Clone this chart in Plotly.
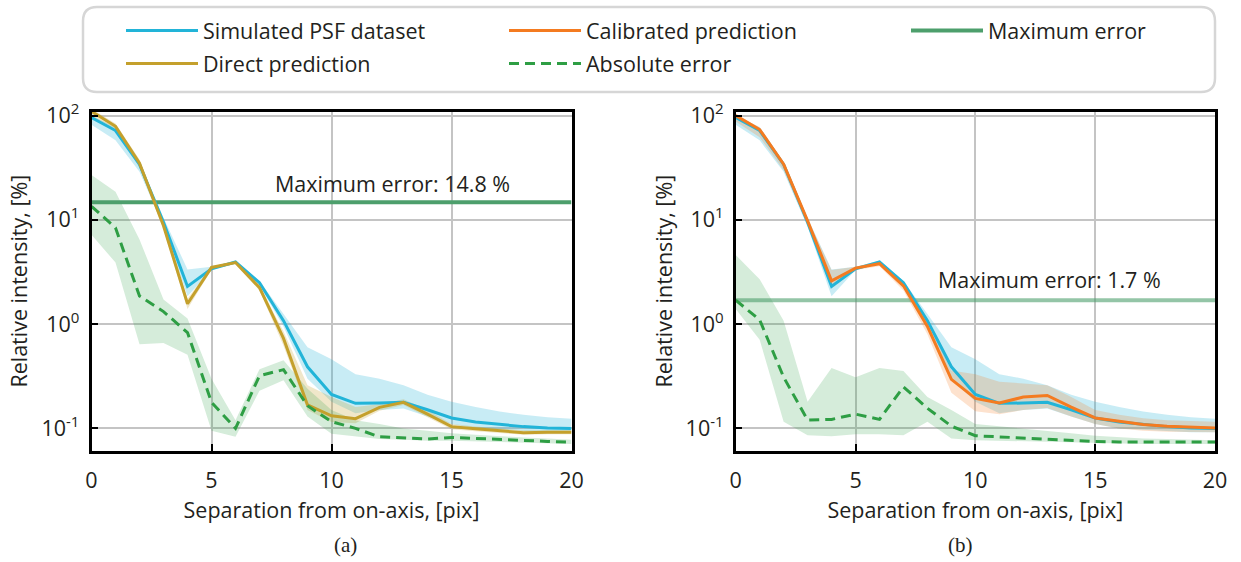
import math
import plotly.graph_objects as go

# ---------------- data ----------------
sep = list(range(21))

# Simulated PSF dataset (mean, upper, lower)
sim = [96, 72, 34, 9.5, 2.3, 3.4, 3.95, 2.5, 1.08, 0.39, 0.212, 0.174, 0.175, 0.178, 0.151, 0.126, 0.115, 0.109, 0.104, 0.101, 0.1]
sim_hi = [100, 78, 36, 10.5, 3.35, 3.55, 4.05, 2.6, 1.25, 0.6, 0.46, 0.33, 0.3, 0.26, 0.21, 0.18, 0.16, 0.145, 0.135, 0.128, 0.124]
sim_lo = [82, 58, 29, 8.6, 1.85, 3.3, 3.85, 2.35, 0.95, 0.3, 0.18, 0.14, 0.15, 0.155, 0.13, 0.11, 0.1, 0.097, 0.094, 0.092, 0.092]

# (a) Direct prediction
direct = [110, 79, 35, 8.8, 1.57, 3.5, 3.9, 2.24, 0.73, 0.168, 0.132, 0.124, 0.159, 0.178, 0.137, 0.104, 0.099, 0.095, 0.091, 0.092, 0.092]
direct_hi = [116, 84, 38, 9.5, 1.75, 3.6, 4.0, 2.35, 0.85, 0.26, 0.2, 0.16, 0.17, 0.19, 0.15, 0.11, 0.104, 0.1, 0.096, 0.096, 0.096]
direct_lo = [100, 74, 32, 8.2, 1.4, 3.35, 3.8, 2.1, 0.62, 0.15, 0.115, 0.112, 0.148, 0.168, 0.128, 0.098, 0.094, 0.09, 0.087, 0.088, 0.088]

# (a) Absolute error
err_a = [13.5, 8.4, 1.86, 1.32, 0.83, 0.178, 0.1, 0.32, 0.366, 0.165, 0.116, 0.1, 0.083, 0.081, 0.079, 0.082, 0.08, 0.078, 0.077, 0.075, 0.074]
err_a_hi = [27, 18.6, 6.5, 1.72, 1.13, 0.3, 0.12, 0.37, 0.45, 0.24, 0.15, 0.12, 0.11, 0.1, 0.095, 0.09, 0.087, 0.084, 0.082, 0.08, 0.078]
err_a_lo = [7.2, 3.9, 0.64, 0.66, 0.51, 0.095, 0.083, 0.23, 0.29, 0.13, 0.089, 0.084, 0.079, 0.078, 0.076, 0.076, 0.075, 0.074, 0.073, 0.072, 0.071]

# (b) Calibrated prediction
calib = [100, 73.6, 34.2, 9.8, 2.6, 3.45, 3.8, 2.33, 0.95, 0.295, 0.194, 0.175, 0.2, 0.207, 0.16, 0.126, 0.117, 0.109, 0.105, 0.103, 0.101]
calib_hi = [104, 77, 36, 10.3, 3.3, 3.55, 3.95, 2.45, 1.05, 0.36, 0.33, 0.28, 0.27, 0.26, 0.2, 0.15, 0.135, 0.125, 0.12, 0.118, 0.116]
calib_lo = [88, 62, 30, 9.0, 2.2, 3.3, 3.6, 2.1, 0.8, 0.22, 0.146, 0.137, 0.15, 0.157, 0.13, 0.11, 0.1, 0.095, 0.093, 0.092, 0.092]

# (b) Absolute error
err_b = [1.7, 1.1, 0.31, 0.12, 0.122, 0.137, 0.122, 0.25, 0.156, 0.105, 0.085, 0.083, 0.081, 0.078, 0.076, 0.075, 0.074, 0.074, 0.074, 0.074, 0.074]
err_b_hi = [4.6, 2.7, 1.08, 0.18, 0.38, 0.31, 0.38, 0.355, 0.2, 0.15, 0.11, 0.105, 0.1, 0.095, 0.09, 0.085, 0.082, 0.08, 0.079, 0.078, 0.077]
err_b_lo = [1.4, 0.71, 0.116, 0.086, 0.084, 0.088, 0.088, 0.086, 0.116, 0.08, 0.077, 0.076, 0.075, 0.074, 0.073, 0.072, 0.072, 0.071, 0.071, 0.071, 0.071]

max_err = [14.8, 1.7]
panel_labels = ["(a)", "(b)"]
y_tickvals = [0.1, 1, 10, 100]
y_ticktext = ["10<sup>-1</sup>", "10<sup>0</sup>", "10<sup>1</sup>", "10<sup>2</sup>"]
x_tickvals = [0, 5, 10, 15, 20]

# ---------------- styles ----------------
W, H = 1241, 562
FONT = "Open Sans"
TXT = "#231f20"
C_SIM = "#22b4d8"
C_DIR = "#c4a02c"
C_CAL = "#f47b20"
C_ERR = "#2e9e44"
C_MAX = "#4d9f6c"
FS = 21.5

fig = go.Figure()


def band(hi, lo, color, xa, ya):
    fig.add_trace(go.Scatter(x=sep, y=hi, mode="lines", line=dict(width=0), showlegend=False,
                             hoverinfo="skip", xaxis=xa, yaxis=ya))
    fig.add_trace(go.Scatter(x=sep, y=lo, mode="lines", line=dict(width=0), fill="tonexty",
                             fillcolor=color, showlegend=False, hoverinfo="skip", xaxis=xa, yaxis=ya))


# ---- panel (a)
band(sim_hi, sim_lo, "rgba(34,180,216,0.25)", "x", "y")
band(direct_hi, direct_lo, "rgba(196,160,44,0.25)", "x", "y")
band(err_a_hi, err_a_lo, "rgba(46,158,68,0.2)", "x", "y")
fig.add_trace(go.Scatter(x=[sep[0], sep[-1]], y=[max_err[0]] * 2, mode="lines",
                         line=dict(color=C_MAX, width=4), name="Maximum error",
                         legend="legend3", legendgroup="g5", xaxis="x", yaxis="y"))
fig.add_trace(go.Scatter(x=sep, y=sim, mode="lines", line=dict(color=C_SIM, width=3),
                         name="Simulated PSF dataset", legend="legend", legendrank=1, legendgroup="g1",
                         xaxis="x", yaxis="y"))
fig.add_trace(go.Scatter(x=sep, y=direct, mode="lines", line=dict(color=C_DIR, width=3),
                         name="Direct prediction", legend="legend", legendrank=2, legendgroup="g2",
                         xaxis="x", yaxis="y"))
fig.add_trace(go.Scatter(x=sep, y=err_a, mode="lines", line=dict(color=C_ERR, width=3, dash="10px,6px"),
                         name="Absolute error", legend="legend2", legendrank=2, legendgroup="g4",
                         xaxis="x", yaxis="y"))

# ---- panel (b)
band(sim_hi, sim_lo, "rgba(34,180,216,0.25)", "x2", "y2")
band(calib_hi, calib_lo, "rgba(244,123,32,0.22)", "x2", "y2")
band(err_b_hi, err_b_lo, "rgba(46,158,68,0.2)", "x2", "y2")
fig.add_trace(go.Scatter(x=[sep[0], sep[-1]], y=[max_err[1]] * 2, mode="lines",
                         line=dict(color="rgba(77,159,108,0.6)", width=4), showlegend=False,
                         xaxis="x2", yaxis="y2"))
fig.add_trace(go.Scatter(x=sep, y=sim, mode="lines", line=dict(color=C_SIM, width=3),
                         showlegend=False, xaxis="x2", yaxis="y2"))
fig.add_trace(go.Scatter(x=sep, y=calib, mode="lines", line=dict(color=C_CAL, width=3),
                         name="Calibrated prediction", legend="legend2", legendrank=1, legendgroup="g3",
                         xaxis="x2", yaxis="y2"))
fig.add_trace(go.Scatter(x=sep, y=err_b, mode="lines", line=dict(color=C_ERR, width=3, dash="10px,6px"),
                         showlegend=False, xaxis="x2", yaxis="y2"))

# ---------------- axes ----------------
def xaxis_cfg(domain, anchor):
    return dict(domain=domain, anchor=anchor, range=[0, 20], tickmode="array", tickvals=x_tickvals,
                ticks="inside", ticklen=7, tickwidth=2, tickcolor="black",
                showline=True, linecolor="black", linewidth=2.5, mirror=True,
                showgrid=True, gridcolor="#c4c4c4", gridwidth=1.5, zeroline=False,
                tickfont=dict(family=FONT, size=FS, color=TXT), ticklabelstandoff=9,
                title=dict(text="Separation from on-axis, [pix]", font=dict(family=FONT, size=FS, color=TXT),
                           standoff=10))


def yaxis_cfg(anchor):
    return dict(domain=[111.3 / H, 450.3 / H], anchor=anchor, type="log", range=[-1.214, 2.038],
                tickmode="array", tickvals=y_tickvals, ticktext=y_ticktext,
                ticks="inside", ticklen=7, tickwidth=2, tickcolor="black",
                showline=True, linecolor="black", linewidth=2.5, mirror=True,
                showgrid=True, gridcolor="#c4c4c4", gridwidth=1.5, zeroline=False,
                tickfont=dict(family=FONT, size=FS, color=TXT), ticklabelstandoff=5,
                title=dict(text="Relative intensity, [%]", font=dict(family=FONT, size=FS, color=TXT),
                           standoff=8))


leg_common = dict(orientation="v", xanchor="left", yanchor="top", bgcolor="rgba(0,0,0,0)",
                  borderwidth=0, font=dict(family=FONT, size=FS, color=TXT), itemwidth=72,
                  tracegroupgap=2)

fig.update_layout(
    width=W, height=H, margin=dict(l=0, r=0, t=0, b=0, autoexpand=False),
    paper_bgcolor="white", plot_bgcolor="white",
    xaxis=xaxis_cfg([91.5 / W, 571.5 / W], "y"),
    yaxis=yaxis_cfg("x"),
    xaxis2=xaxis_cfg([735.7 / W, 1215 / W], "y2"),
    yaxis2=yaxis_cfg("x2"),
    legend=dict(x=121 / W, y=1 - 10 / H, **leg_common),
    legend2=dict(x=504 / W, y=1 - 10 / H, **leg_common),
    legend3=dict(x=906 / W, y=1 - 10 / H, **leg_common),
    showlegend=True,
)

# rounded legend frame
x0, x1 = 83 / W, 1215 / W
y0, y1 = 1 - 92 / H, 1 - 7 / H
rx, ry = 14 / W, 14 / H
path = (f"M{x0 + rx},{y1} L{x1 - rx},{y1} Q{x1},{y1} {x1},{y1 - ry} L{x1},{y0 + ry} "
        f"Q{x1},{y0} {x1 - rx},{y0} L{x0 + rx},{y0} Q{x0},{y0} {x0},{y0 + ry} "
        f"L{x0},{y1 - ry} Q{x0},{y1} {x0 + rx},{y1} Z")
fig.add_shape(type="path", path=path, xref="paper", yref="paper",
              line=dict(color="#d6d6d6", width=2.5), fillcolor="rgba(0,0,0,0)", layer="below")

# max error annotations (log axes take log10 positions)
fig.add_annotation(x=17.5, y=math.log10(max_err[0]), xref="x", yref="y", yanchor="bottom", xanchor="right",
                   yshift=2, showarrow=False, text=f"Maximum error: {max_err[0]} %",
                   font=dict(family=FONT, size=FS, color=TXT))
fig.add_annotation(x=17.85, y=math.log10(max_err[1]), xref="x2", yref="y2", yanchor="bottom", xanchor="right",
                   yshift=4, showarrow=False, text=f"Maximum error: {max_err[1]} %",
                   font=dict(family=FONT, size=FS, color=TXT))

# panel labels
for lab, xc in zip(panel_labels, [331.5 / W, 975.4 / W]):
    fig.add_annotation(x=xc, y=1 - 545 / H, xref="paper", yref="paper", yanchor="middle",
                       showarrow=False, text=lab,
                       font=dict(family="Liberation Serif", size=21, color=TXT))

fig.write_html("out.html", config={"displayModeBar": False},
               post_script="document.body.style.margin='0';")
